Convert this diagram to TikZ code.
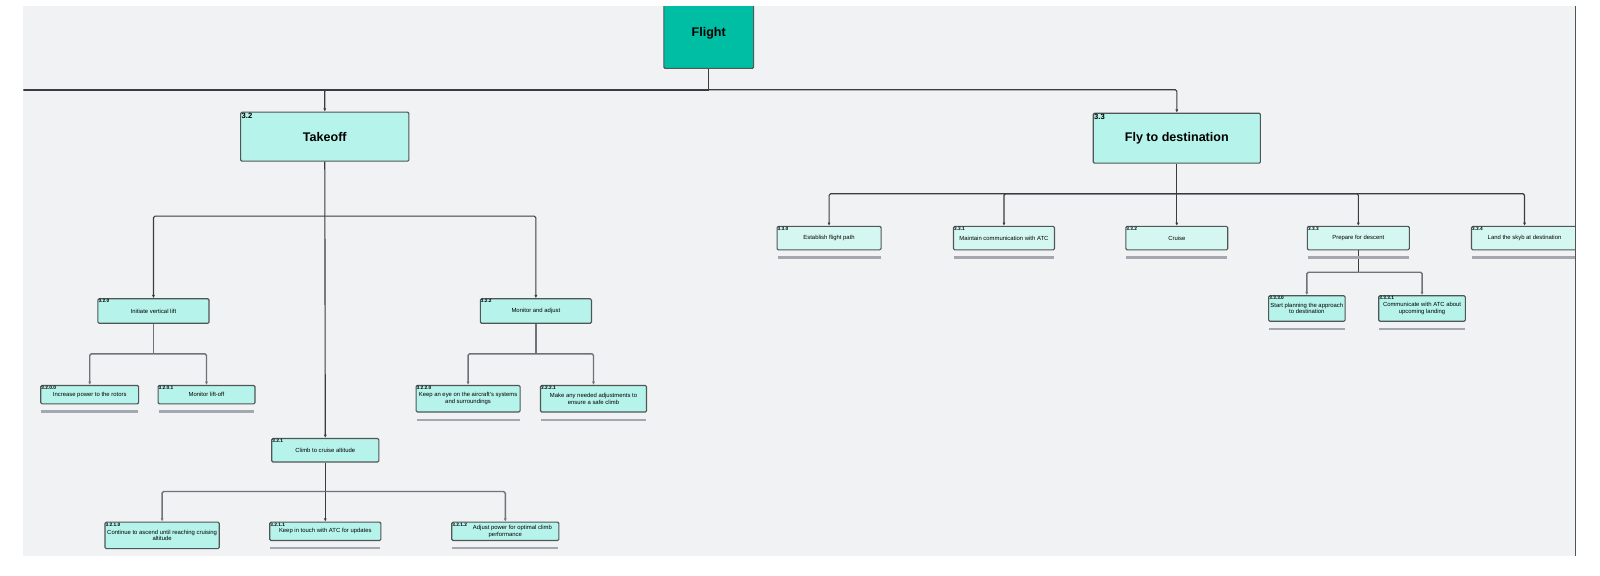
\documentclass[tikz,border=0pt]{standalone}
\usepackage{fontspec}
\setmainfont{Liberation Sans}
\usetikzlibrary{arrows.meta}
\definecolor{bg}{RGB}{241,242,244}
\definecolor{teal1}{RGB}{0,190,163}
\definecolor{aqua1}{RGB}{182,243,234}
\definecolor{aqua2}{RGB}{212,248,241}
\definecolor{edge}{RGB}{80,86,86}
\definecolor{conn1}{RGB}{60,60,64}
\definecolor{conn2}{RGB}{112,114,120}
\definecolor{ul}{RGB}{165,167,174}
\tikzset{
 box/.style={draw=edge, line width=1.1pt, rounded corners=1.2pt, fill=aqua1, inner sep=1pt, align=center, font=\fontsize{5.8}{6.4}\selectfont},
 bigbox/.style={box, font=\fontsize{12.3}{14}\selectfont\bfseries},
 lightbox/.style={box, fill=aqua2},
 num/.style={anchor=north west, inner sep=1pt, font=\fontsize{4.7}{5}\selectfont\bfseries},
 bignum/.style={num, inner sep=1.3pt, font=\fontsize{7.5}{8}\selectfont\bfseries},
 link/.style={draw=conn1, line width=1.1pt, rounded corners=1.5pt},
 arr/.style={link, -{Latex[length=3.2pt,width=3pt]}},
 sublink/.style={draw=conn2, line width=1.4pt, rounded corners=1.5pt},
 subarr/.style={sublink, -{Latex[length=3.2pt,width=3pt]}},
 uline/.style={draw=ul, line width=2.2pt},
 frame/.style={draw=edge, line width=1.8pt},
}
\begin{document}
\begin{tikzpicture}[x=1pt,y=-1pt]
\useasboundingbox (0,0) rectangle (1569,564);
\fill[white] (0,0) rectangle (1569,564);
\fill[bg] (23,6) rectangle (1545,545);
\begin{scope}
\clip (23,6) rectangle (1545,545);
% top level
\node[bigbox, fill=teal1, minimum width=88pt, minimum height=68pt] (flight) at (695,33) {Flight};
\node[bigbox, minimum width=165pt, minimum height=48pt] (takeoff) at (318.5,134) {Takeoff};
\node[bignum] (takeoff-n) at (takeoff.north west) {3.2};
\node[bigbox, minimum width=164pt, minimum height=49pt] (fly) at (1154,135.5) {Fly to destination};
\node[bignum] (fly-n) at (fly.north west) {3.3};
% takeoff branch
\node[box, minimum width=109pt, minimum height=24pt] (n320) at (150.5,305) {Initiate vertical lift};
\node[num] (n320-n) at (n320.north west) {3.2.0};
\node[box, minimum width=109pt, minimum height=24pt] (n322) at (525.5,305) {Monitor and adjust};
\node[num] (n322-n) at (n322.north west) {3.2.2};
\node[box, minimum width=96pt, minimum height=18pt] (n3200) at (88,387) {Increase power to the rotors};
\node[num] (n3200-n) at (n3200.north west) {3.2.0.0};
\node[box, minimum width=95pt, minimum height=18pt] (n3201) at (202.5,387) {Monitor lift-off};
\node[num] (n3201-n) at (n3201.north west) {3.2.0.1};
\node[box, minimum width=102pt, minimum height=26pt] (n3220) at (459,391) {Keep an eye on the aircraft's systems\\and surroundings};
\node[num] (n3220-n) at (n3220.north west) {3.2.2.0};
\node[box, minimum width=104pt, minimum height=26pt] (n3221) at (582,391) {Make any needed adjustments to\\ensure a safe climb};
\node[num] (n3221-n) at (n3221.north west) {3.2.2.1};
\node[box, minimum width=105pt, minimum height=23pt] (n321) at (319,441.5) {Climb to cruise altitude};
\node[num] (n321-n) at (n321.north west) {3.2.1};
\node[box, minimum width=112pt, minimum height=26pt] (n3210) at (159,525) {Continue to ascend until reaching cruising\\altitude};
\node[num] (n3210-n) at (n3210.north west) {3.2.1.0};
\node[box, minimum width=109pt, minimum height=18pt] (n3211) at (319,521) {Keep in touch with ATC for updates};
\node[num] (n3211-n) at (n3211.north west) {3.2.1.1};
\node[box, minimum width=105pt, minimum height=18pt] (n3212) at (495.5,521) {\hspace*{14pt}Adjust power for optimal climb\\performance};
\node[num] (n3212-n) at (n3212.north west) {3.2.1.2};
% fly branch
\node[lightbox, minimum width=102pt, minimum height=23pt] (n330) at (813,233.5) {Establish flight path};
\node[num] (n330-n) at (n330.north west) {3.3.0};
\node[lightbox, minimum width=99pt, minimum height=23pt] (n331) at (984.5,233.5) {Maintain communication with ATC};
\node[num] (n331-n) at (n331.north west) {3.3.1};
\node[lightbox, minimum width=100pt, minimum height=23pt] (n332) at (1154,233.5) {Cruise};
\node[num] (n332-n) at (n332.north west) {3.3.2};
\node[lightbox, minimum width=100pt, minimum height=23pt] (n333) at (1332,233.5) {Prepare for descent};
\node[num] (n333-n) at (n333.north west) {3.3.3};
\node[lightbox, minimum width=104pt, minimum height=23pt] (n334) at (1495,233.5) {Land the skyb at destination};
\node[num] (n334-n) at (n334.north west) {3.3.4};
\node[box, minimum width=75pt, minimum height=25pt] (n3330) at (1281.5,302.5) {Start planning the approach\\to destination};
\node[num] (n3330-n) at (n3330.north west) {3.3.3.0};
\node[box, minimum width=85pt, minimum height=25pt] (n3331) at (1394.5,302.5) {Communicate with ATC about\\upcoming landing};
\node[num] (n3331-n) at (n3331.north west) {3.3.3.1};
% junctions
\coordinate (jt) at (695,88);
\coordinate (jl) at (23,88);
\coordinate (jk) at (319,212);
\coordinate (j320) at (150.5,347);
\coordinate (j322) at (525.5,347);
\coordinate (j321) at (319,482);
\coordinate (jf) at (1154,190);
\coordinate (j333) at (1332,267);
% connectors
\draw[link] (flight.south) -- (jt);
\draw[link, line width=1.5pt] (jl) -- (jt);
\draw[arr] (jt) -| (takeoff.north);
\draw[arr] (jt) -| (fly.north);
\draw[arr] (takeoff.south) -- (n321.north);
\draw[arr] (jk) -| (n320.north);
\draw[arr] (jk) -| (n322.north);
\draw[sublink] (n320.south) -- (j320);
\draw[subarr] (j320) -| (n3200.north);
\draw[subarr] (j320) -| (n3201.north);
\draw[sublink] (n322.south) -- (j322);
\draw[subarr] (j322) -| (n3220.north);
\draw[subarr] (j322) -| (n3221.north);
\draw[arr] (n321.south) -- (n3211.north);
\draw[subarr] (j321) -| (n3210.north);
\draw[subarr] (j321) -| (n3212.north);
\draw[arr] (fly.south) -- (n332.north);
\draw[arr] (jf) -| (n330.north);
\draw[arr] (jf) -| (n331.north);
\draw[arr] (jf) -| (n333.north);
\draw[arr] (jf) -| (n334.north);
\draw[link] (n333.south) -- (j333);
\draw[subarr] (j333) -| (n3330.north);
\draw[subarr] (j333) -| (n3331.north);
% underlines
\foreach \n in {n3200,n3201,n3220,n3221,n3211,n3212,n330,n331,n332,n333,n334,n3330,n3331}
  \draw[uline] ([yshift=-7pt,xshift=1pt]\n.south west) -- ([yshift=-7pt,xshift=-1pt]\n.south east);
\end{scope}
\draw[frame] (1545,6) -- (1545,545);
\end{tikzpicture}
\end{document}
